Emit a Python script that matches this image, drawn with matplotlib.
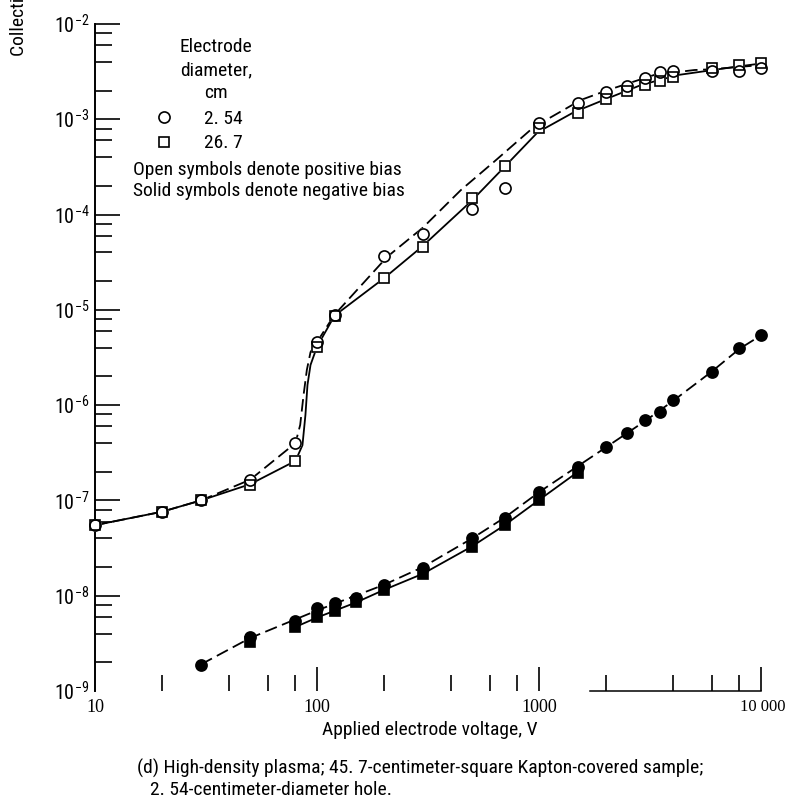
import matplotlib
matplotlib.use('Agg')
import matplotlib.pyplot as plt
import matplotlib.transforms as mtrans
from matplotlib.lines import Line2D
from matplotlib import font_manager as fm

plt.rcParams['lines.scale_dashes'] = False

# ---------------- data ----------------
# positive bias (open symbols)
v_pos = [10, 20, 30, 50, 80, 100, 120, 200, 300, 500, 700, 1000, 1500,
         2000, 2500, 3000, 3500, 4000, 6000, 8000, 10000]
i_pos_254 = [5.5e-8, 7.6e-8, 1.0e-7, 1.64e-7, 4.0e-7, 4.6e-6, 8.85e-6, 3.68e-5,
             6.25e-5, 1.15e-4, 1.9e-4, 9.1e-4, 1.48e-3, 1.93e-3, 2.23e-3,
             2.71e-3, 3.14e-3, 3.2e-3, 3.2e-3, 3.2e-3, 3.45e-3]
i_pos_267 = [5.5e-8, 7.6e-8, 1.0e-7, 1.45e-7, 2.6e-7, 4.1e-6, 8.7e-6, 2.16e-5,
             4.57e-5, 1.49e-4, 3.2e-4, 8.1e-4, 1.16e-3, 1.63e-3, 1.98e-3,
             2.29e-3, 2.52e-3, 2.78e-3, 3.45e-3, 3.71e-3, 3.9e-3]

# faired curves drawn through the positive-bias data
v_fit_pos_254 = [10, 20, 30, 50, 80, 84, 87, 90, 93.5, 100, 120, 207, 300, 445,
                 628, 948, 1549, 2047, 3304, 5013, 6000, 8000, 10000]
i_fit_pos_254 = [5.5e-8, 7.6e-8, 1.0e-7, 1.65e-7, 4.0e-7, 6.2e-7, 1.28e-6,
                 2.34e-6, 3.6e-6, 4.6e-6, 8.9e-6, 3.6e-5, 7.3e-5, 1.81e-4,
                 3.59e-4, 8.3e-4, 1.6e-3, 2.03e-3, 2.92e-3, 3.29e-3, 3.35e-3,
                 3.55e-3, 3.7e-3]
v_fit_pos_267 = [10, 20, 30, 50, 80, 86, 88.7, 90.6, 93.5, 100, 120, 200, 297,
                 498, 693, 986, 1439, 1963, 2884, 4246, 7587, 10000]
i_fit_pos_267 = [5.5e-8, 7.6e-8, 1.0e-7, 1.48e-7, 2.6e-7, 3.8e-7, 7.9e-7,
                 1.63e-6, 2.64e-6, 4.1e-6, 8.7e-6, 2.14e-5, 4.6e-5, 1.4e-4,
                 3.1e-4, 7.3e-4, 1.19e-3, 1.6e-3, 2.29e-3, 2.92e-3, 3.54e-3,
                 3.85e-3]

# negative bias (solid symbols)
v_neg_254 = [30, 50, 80, 100, 120, 150, 200, 300, 500, 700, 1000, 1500, 2000,
             2500, 3000, 3500, 4000, 6000, 8000, 10000]
i_neg_254 = [1.88e-9, 3.7e-9, 5.4e-9, 7.4e-9, 8.4e-9, 9.5e-9, 1.3e-8, 1.96e-8,
             4.04e-8, 6.55e-8, 1.23e-7, 2.25e-7, 3.64e-7, 5.1e-7, 7.0e-7,
             8.5e-7, 1.13e-6, 2.23e-6, 3.98e-6, 5.46e-6]
v_neg_267 = [50, 80, 100, 120, 150, 200, 300, 500, 700, 1000, 1500]
i_neg_267 = [3.3e-9, 4.7e-9, 6.0e-9, 6.9e-9, 8.6e-9, 1.15e-8, 1.69e-8, 3.25e-8,
             5.5e-8, 1.01e-7, 1.94e-7]

v_fit_neg_254 = [30, 50, 100, 200, 300, 500, 700, 1000, 1500, 2000, 3000, 4000,
                 6000, 8000, 10000]
i_fit_neg_254 = [1.9e-9, 3.6e-9, 7.0e-9, 1.3e-8, 2.0e-8, 4.0e-8, 6.6e-8,
                 1.22e-7, 2.3e-7, 3.6e-7, 6.8e-7, 1.1e-6, 2.25e-6, 3.9e-6, 5.4e-6]
v_fit_neg_267 = [80, 100, 150, 200, 300, 500, 700, 1000, 1500]
i_fit_neg_267 = [4.7e-9, 5.9e-9, 8.5e-9, 1.15e-8, 1.7e-8, 3.3e-8, 5.5e-8,
                 1.01e-7, 2.0e-7]

x_major = [10, 100, 1000, 10000]
x_major_labels = ['10', '100', '1000', '10 000']
x_minor = [20, 40, 60, 80, 200, 400, 600, 800, 2000, 4000, 6000, 8000]
y_major = [1e-9, 1e-8, 1e-7, 1e-6, 1e-5, 1e-4, 1e-3, 1e-2]
y_major_labels = [r'$\mathregular{10^{-%d}}$' % k for k in range(9, 1, -1)]
y_minor = [m * 10.0 ** e for e in range(-9, -2) for m in (2, 4, 6, 8)]

legend_title = ['Electrode', 'diameter,', 'cm']
legend_labels = ['2. 54', '26. 7']
note1 = 'Open symbols denote positive bias'
note2 = 'Solid symbols denote negative bias'
x_label = 'Applied electrode voltage, V'
y_label = 'Collection current, A'
caption1 = '(d) High-density plasma; 45. 7-centimeter-square Kapton-covered sample;'
caption2 = '2. 54-centimeter-diameter hole.'

# ---------------- font choice (narrow sans if available) ----------------
entries = fm.fontManager.ttflist
names = {e.name for e in entries}
family, stretch = None, 'normal'
for p in ['Liberation Sans Narrow', 'Roboto Condensed', 'Open Sans Condensed',
          'Noto Sans Condensed', 'DejaVu Sans Condensed', 'Arial Narrow']:
    if p in names:
        family = p
        break
if family is None:
    for fam in ['DejaVu Sans', 'Noto Sans', 'Open Sans', 'Roboto']:
        if any(e.name == fam and str(e.stretch) in ('condensed', 'semi-condensed', 'extra-condensed', '75', '87')
               for e in entries):
            family, stretch = fam, 'condensed'
            break
if family is None:
    family = 'Liberation Sans'
serif = 'Liberation Serif' if 'Liberation Serif' in names else 'DejaVu Serif'

plt.rcParams['font.family'] = [family, 'DejaVu Sans']
plt.rcParams['mathtext.fontset'] = 'custom'
plt.rcParams['mathtext.rm'] = serif


def measure(text, size, fam, st):
    f = plt.figure(figsize=(8, 2), dpi=100)
    r = f.canvas.get_renderer()
    t = f.text(0, 0.5, text, fontsize=size, family=[fam, 'DejaVu Sans'], stretch=st)
    w = t.get_window_extent(r).width
    plt.close(f)
    return w


# scale font sizes so that the text widths match the reference
s1 = 13 * 269 / measure(note1, 13, family, stretch)
s2 = 13 * 576 / measure(caption1, 13, family, stretch)
FS = min(14.0, (s1 + s2) / 2)
TFS = 13.0   # serif tick labels

# ---------------- figure ----------------
W, H = 789, 801
fig = plt.figure(figsize=(W / 100, H / 100), dpi=100)


def fx(px):
    return px / W


def fy(py):
    return 1 - py / H


ax = fig.add_axes([fx(95), fy(691), (761 - 95) / W, (691 - 24) / H])
ax.set_xscale('log')
ax.set_yscale('log')
ax.set_xlim(10, 10000)
ax.set_ylim(1e-9, 1e-2)

for s in ('top', 'right'):
    ax.spines[s].set_visible(False)
ax.spines['left'].set_linewidth(1.4)
ax.spines['bottom'].set_linewidth(1.1)
ax.spines['bottom'].set_bounds(1700, 10000)

ax.set_xticks(x_major)
ax.set_xticklabels(x_major_labels, fontfamily=serif, fontstretch='normal', fontsize=TFS)
ax.set_xticks(x_minor, minor=True)
ax.set_xticklabels([], minor=True)
ax.set_yticks(y_major)
ax.set_yticklabels(y_major_labels, fontsize=14.5)
ax.set_yticks(y_minor, minor=True)
ax.set_yticklabels([], minor=True)

ax.tick_params(axis='both', which='both', direction='in', width=1.2, colors='black')
ax.tick_params(axis='x', which='major', length=17, pad=6)
ax.tick_params(axis='x', which='minor', length=11.5)
ax.tick_params(axis='y', which='major', length=18, pad=4)
ax.tick_params(axis='y', which='minor', length=12)

ax.xaxis.get_major_ticks()[0].tick1line.set_visible(False)
ax.yaxis.get_major_ticks()[0].tick1line.set_visible(False)
last = ax.xaxis.get_major_ticks()[-1].label1
last.set_horizontalalignment('right')
last.set_fontsize(TFS * 0.92)
last.set_transform(last.get_transform() + mtrans.ScaledTranslation(25 / 100, 0, fig.dpi_scale_trans))

lw = 1.3
dash = (9, 4)
# curves
ax.plot(v_fit_pos_254, i_fit_pos_254, color='k', lw=lw, dashes=dash, zorder=2, clip_on=False)
ax.plot(v_fit_pos_267, i_fit_pos_267, color='k', lw=lw, zorder=2, clip_on=False)
ax.plot(v_fit_neg_254, i_fit_neg_254, color='k', lw=lw, dashes=dash, zorder=2, clip_on=False)
ax.plot(v_fit_neg_267, i_fit_neg_267, color='k', lw=lw, zorder=2, clip_on=False)

ms_c = 8.0
ms_s = 7.6
mew = 1.2
# open symbols: white knock-out first, then both outlines
ax.plot(v_pos, i_pos_254, ls='none', marker='o', ms=ms_c, mfc='white', mec='white', mew=mew, zorder=3, clip_on=False)
ax.plot(v_pos, i_pos_267, ls='none', marker='s', ms=ms_s, mfc='white', mec='white', mew=mew, zorder=3, clip_on=False)
ax.plot(v_pos, i_pos_254, ls='none', marker='o', ms=ms_c, mfc='none', mec='k', mew=mew, zorder=4, clip_on=False)
ax.plot(v_pos, i_pos_267, ls='none', marker='s', ms=ms_s, mfc='none', mec='k', mew=mew, zorder=4, clip_on=False)
# solid symbols
ax.plot(v_neg_254, i_neg_254, ls='none', marker='o', ms=ms_c, mfc='k', mec='k', mew=mew, zorder=4, clip_on=False)
ax.plot(v_neg_267, i_neg_267, ls='none', marker='s', ms=ms_s, mfc='k', mec='k', mew=mew, zorder=4, clip_on=False)

# legend
handles = [Line2D([], [], ls='none', marker='o', ms=ms_c, mfc='white', mec='k', mew=mew),
           Line2D([], [], ls='none', marker='s', ms=ms_s, mfc='white', mec='k', mew=mew)]
leg = ax.legend(handles, legend_labels, loc='center left', frameon=False,
                bbox_to_anchor=(fx(152), fy(131)), bbox_transform=fig.transFigure,
                prop={'family': [family, 'DejaVu Sans'], 'stretch': stretch, 'size': FS},
                handlelength=1.2, handletextpad=1.5, labelspacing=0.35,
                borderpad=0, borderaxespad=0)

tk = dict(fontsize=FS, fontstretch=stretch)
for txt, yy in zip(legend_title, [47, 70, 93]):
    fig.text(fx(216), fy(yy), txt, ha='center', va='center', **tk)
fig.text(fx(133), fy(170), note1, ha='left', va='center', **tk)
fig.text(fx(133), fy(191), note2, ha='left', va='center', **tk)

fig.text(fx(430), fy(730), x_label, ha='center', va='center', **tk)
fig.text(fx(18), fy(56), y_label, rotation=90, ha='center', va='bottom', **tk)

fig.text(fx(137), fy(768), caption1, ha='left', va='center', **tk)
fig.text(fx(150), fy(790), caption2, ha='left', va='center', **tk)

fig.savefig('out.png', dpi=100)
